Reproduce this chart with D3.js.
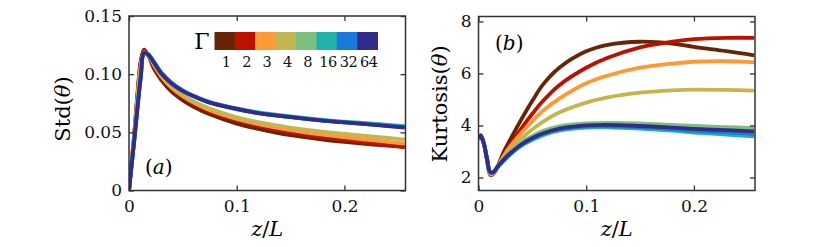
<!DOCTYPE html>
<html>
<head>
<meta charset="utf-8">
<script src="https://cdn.jsdelivr.net/npm/d3@7"></script>
<style>
  body { margin: 0; background: #fff; }
  svg text { font-family: "DejaVu Serif", serif; }
  .tick text { font-size: 17px; fill: #111; }
  .tick line { stroke: #333; stroke-width: 1.3; }
</style>
</head>
<body>
<svg id="fig" width="830" height="247"></svg>
<script>
// shared z/L sample positions
var zs = [0, 0.002, 0.005, 0.008, 0.011, 0.014, 0.018, 0.023, 0.03, 0.04, 0.05, 0.06, 0.075, 0.1, 0.12, 0.15, 0.18, 0.2, 0.23, 0.256];

var gammas = ["1", "2", "3", "4", "8", "16", "32", "64"];
var colors = ["#662506", "#bb1100", "#fe9a36", "#c5b54f", "#7dbf7e", "#22b3a8", "#1a7adb", "#332b8a"];

// Std(theta), one row per Gamma
var stdG1  = [0, 0.020, 0.050, 0.085, 0.112, 0.121, 0.116, 0.105, 0.095, 0.0845, 0.0775, 0.072, 0.0655, 0.0575, 0.053, 0.0475, 0.0438, 0.0418, 0.0393, 0.0375];
var stdG2  = [0, 0.020, 0.049, 0.083, 0.110, 0.120, 0.116, 0.107, 0.097, 0.087, 0.080, 0.0745, 0.068, 0.060, 0.0555, 0.050, 0.0458, 0.0436, 0.0402, 0.0373];
var stdG3  = [0, 0.020, 0.048, 0.081, 0.108, 0.119, 0.116, 0.108, 0.098, 0.088, 0.081, 0.0755, 0.069, 0.0615, 0.057, 0.052, 0.048, 0.0458, 0.0428, 0.0403];
var stdG4  = [0, 0.019, 0.047, 0.079, 0.106, 0.118, 0.116, 0.109, 0.099, 0.089, 0.082, 0.0765, 0.0705, 0.063, 0.0588, 0.054, 0.0505, 0.0487, 0.046, 0.0438];
var stdG8  = [0, 0.018, 0.045, 0.074, 0.100, 0.118, 0.117, 0.111, 0.101, 0.092, 0.0855, 0.081, 0.0755, 0.0698, 0.0665, 0.063, 0.0601, 0.0585, 0.0566, 0.0548];
var stdG16 = [0, 0.018, 0.045, 0.073, 0.099, 0.118, 0.117, 0.111, 0.1015, 0.0925, 0.086, 0.0815, 0.076, 0.0705, 0.0672, 0.0637, 0.0607, 0.0592, 0.0572, 0.0553];
var stdG32 = [0, 0.018, 0.044, 0.072, 0.098, 0.118, 0.117, 0.1105, 0.101, 0.092, 0.0857, 0.081, 0.0757, 0.070, 0.0666, 0.0631, 0.0601, 0.0586, 0.0564, 0.0545];
var stdG64 = [0, 0.018, 0.044, 0.072, 0.098, 0.1185, 0.1165, 0.110, 0.1005, 0.0915, 0.0855, 0.081, 0.0755, 0.0702, 0.0665, 0.063, 0.060, 0.0585, 0.0562, 0.054];

// Kurtosis(theta), one row per Gamma
var kurtG1  = [3.45, 3.6, 3.3, 2.65, 2.1, 2.15, 2.45, 2.95, 3.5, 4.25, 4.95, 5.58, 6.22, 6.85, 7.1, 7.22, 7.15, 7.02, 6.86, 6.7];
var kurtG2  = [3.45, 3.6, 3.3, 2.65, 2.1, 2.15, 2.42, 2.85, 3.3, 3.9, 4.45, 4.95, 5.55, 6.22, 6.6, 7.0, 7.22, 7.32, 7.37, 7.37];
var kurtG3  = [3.45, 3.6, 3.3, 2.65, 2.12, 2.17, 2.42, 2.8, 3.22, 3.72, 4.17, 4.57, 5.03, 5.62, 5.92, 6.22, 6.38, 6.45, 6.47, 6.43];
var kurtG4  = [3.45, 3.6, 3.3, 2.65, 2.15, 2.2, 2.43, 2.75, 3.1, 3.5, 3.85, 4.15, 4.5, 4.88, 5.08, 5.26, 5.35, 5.38, 5.37, 5.34];
var kurtG8  = [3.5, 3.62, 3.3, 2.7, 2.2, 2.22, 2.45, 2.7, 3.0, 3.35, 3.6, 3.8, 3.97, 4.08, 4.1, 4.08, 4.02, 3.98, 3.94, 3.9];
var kurtG16 = [3.5, 3.62, 3.3, 2.7, 2.2, 2.2, 2.4, 2.62, 2.9, 3.22, 3.45, 3.63, 3.8, 3.92, 3.93, 3.88, 3.8, 3.73, 3.65, 3.58];
var kurtG32 = [3.5, 3.62, 3.3, 2.7, 2.2, 2.2, 2.42, 2.65, 2.93, 3.26, 3.5, 3.68, 3.85, 3.97, 3.98, 3.94, 3.86, 3.8, 3.74, 3.68];
var kurtG64 = [3.5, 3.62, 3.3, 2.7, 2.2, 2.22, 2.43, 2.67, 2.95, 3.28, 3.52, 3.7, 3.88, 4.0, 4.02, 3.98, 3.92, 3.87, 3.82, 3.77];

var xTicks = [0, 0.1, 0.2];
var stdTicks = [0, 0.05, 0.10, 0.15];
var kurtTicks = [2, 4, 6, 8];

var stdRows = [stdG1, stdG2, stdG3, stdG4, stdG8, stdG16, stdG32, stdG64];
var kurtRows = [kurtG1, kurtG2, kurtG3, kurtG4, kurtG8, kurtG16, kurtG32, kurtG64];

var svg = d3.select("#fig");

function panel(opts) {
  var x = d3.scaleLinear().domain([0, 0.2567]).range([opts.left, opts.right]);
  var y = d3.scaleLinear().domain(opts.ydom).range([opts.bottom, opts.top]);
  var g = svg.append("g");

  var line = d3.line()
    .x(function(d, i) { return x(zs[i]); })
    .y(function(d) { return y(d); })
    .curve(d3.curveCatmullRom.alpha(0.5));

  var clipId = "clip" + opts.name;
  svg.append("clipPath").attr("id", clipId).append("rect")
    .attr("x", opts.left).attr("y", opts.top)
    .attr("width", opts.right - opts.left).attr("height", opts.bottom - opts.top);

  g.append("g").attr("clip-path", "url(#" + clipId + ")")
    .selectAll("path").data(opts.rows).enter().append("path")
    .attr("d", line)
    .attr("fill", "none")
    .attr("stroke", function(d, i) { return colors[i]; })
    .attr("stroke-width", 3.8)
    .attr("stroke-linejoin", "round");

  // drop d3's default axis font and domain line
  var ax = function(a) {
    a.attr("font-family", null).attr("font-size", null);
    a.select(".domain").remove();
  };
  g.append("g").attr("transform", "translate(0," + opts.bottom + ")")
    .call(d3.axisBottom(x).tickValues(xTicks).tickSize(-5).tickPadding(9)
      .tickFormat(function(d) { return d === 0 ? "0" : d3.format(".1f")(d); }))
    .call(ax);
  g.append("g").attr("transform", "translate(0," + opts.top + ")")
    .call(d3.axisTop(x).tickValues(xTicks).tickSize(-5).tickFormat(""))
    .call(ax);
  g.append("g").attr("transform", "translate(" + opts.left + ",0)")
    .call(d3.axisLeft(y).tickValues(opts.yticks).tickSize(-5).tickPadding(7).tickFormat(opts.yfmt))
    .call(ax);
  g.append("g").attr("transform", "translate(" + opts.right + ",0)")
    .call(d3.axisRight(y).tickValues(opts.yticks).tickSize(-5).tickFormat(""))
    .call(ax);

  g.append("rect")
    .attr("x", opts.left).attr("y", opts.top)
    .attr("width", opts.right - opts.left).attr("height", opts.bottom - opts.top)
    .attr("fill", "none").attr("stroke", "#333").attr("stroke-width", 1.5);

  // axis titles
  var xl = g.append("text")
    .attr("x", (opts.left + opts.right) / 2).attr("y", 236)
    .attr("text-anchor", "middle").attr("font-size", 21);
  xl.append("tspan").attr("font-style", "italic").text("z");
  xl.append("tspan").text("/");
  xl.append("tspan").attr("font-style", "italic").text("L");

  var yl = g.append("text")
    .attr("transform", "translate(" + opts.ylabelX + "," + opts.ylabelY + ") rotate(-90)")
    .attr("text-anchor", "middle").attr("font-size", 21);
  yl.append("tspan").text(opts.ylabel + "(");
  yl.append("tspan").attr("font-style", "italic").text("θ");
  yl.append("tspan").text(")");

  g.append("text")
    .attr("x", opts.tagX).attr("y", opts.tagY)
    .attr("font-size", 20)
    .html("(<tspan font-style='italic'>" + opts.name + "</tspan>)");

  return g;
}

panel({
  name: "a", left: 129, right: 405.5, top: 16, bottom: 190.5,
  ydom: [0, 0.15], yticks: stdTicks, rows: stdRows,
  yfmt: function(d) { return d === 0 ? "0" : d3.format(".2f")(d); },
  ylabel: "Std", ylabelX: 70, ylabelY: 109, tagX: 145, tagY: 174
});

panel({
  name: "b", left: 478.5, right: 755, top: 16.5, bottom: 190.5,
  ydom: [1.5, 8.19], yticks: kurtTicks, rows: kurtRows,
  yfmt: d3.format("d"),
  ylabel: "Kurtosis", ylabelX: 447, ylabelY: 104, tagX: 495, tagY: 50
});

// colour key for Gamma
var kx = d3.scaleBand().domain(gammas).range([214.5, 377.5]);
var key = svg.append("g");
key.selectAll("rect").data(gammas).enter().append("rect")
  .attr("x", function(d) { return kx(d); })
  .attr("y", 32)
  .attr("width", kx.bandwidth() + 0.5)
  .attr("height", 18)
  .attr("fill", function(d, i) { return colors[i]; });
key.selectAll("text.kl").data(gammas).enter().append("text")
  .attr("class", "kl")
  .attr("x", function(d) { return kx(d) + kx.bandwidth() / 2 + 1.5; })
  .attr("y", 67)
  .attr("text-anchor", "middle")
  .attr("font-size", 14.5)
  .attr("letter-spacing", -0.5)
  .attr("fill", "#111")
  .text(function(d) { return d; });
key.append("text")
  .attr("x", 202).attr("y", 49)
  .attr("text-anchor", "middle")
  .attr("font-size", 22)
  .text("Γ");
</script>
</body>
</html>
